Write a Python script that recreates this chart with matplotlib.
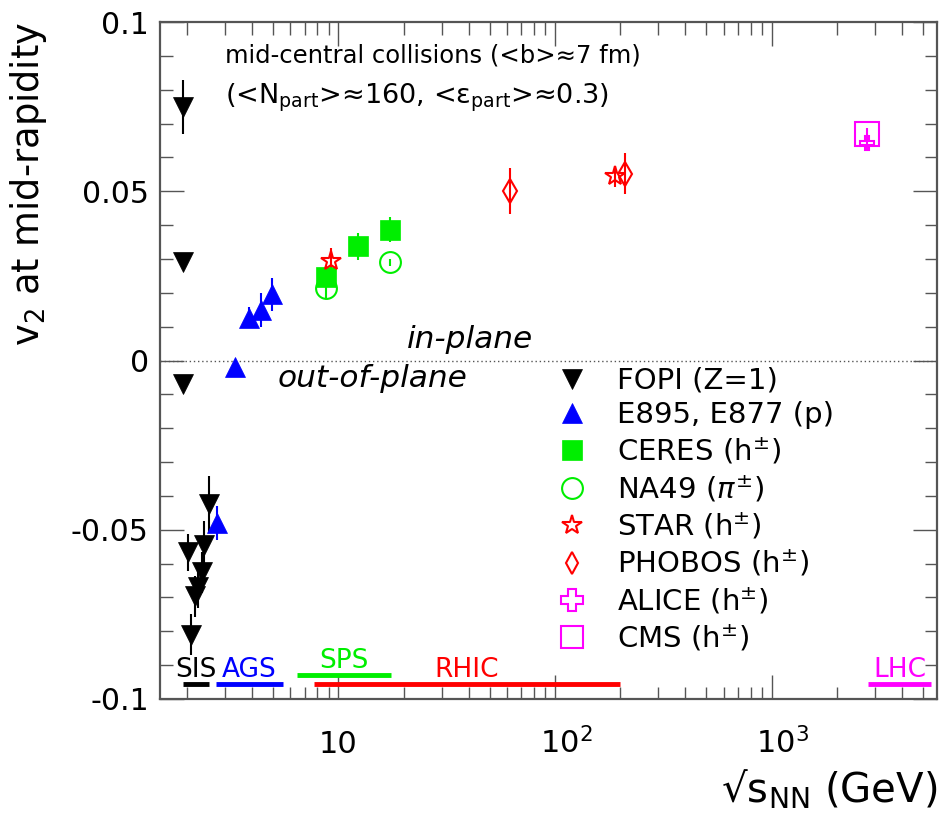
import matplotlib
matplotlib.use("Agg")
import matplotlib.pyplot as plt
import matplotlib.transforms as mtransforms
from matplotlib.lines import Line2D
from matplotlib.ticker import LogLocator, MultipleLocator, NullFormatter
import numpy as np

plt.rcParams['font.family'] = ['DejaVu Sans']
plt.rcParams['mathtext.fontset'] = 'dejavusans'

# ---- data ----
fopi_x = [1.92, 1.92, 1.92, 2.53, 2.02, 2.40, 2.35, 2.25, 2.18, 2.09]
fopi_y = [0.075, 0.029, -0.0068, -0.0425, -0.0567, -0.0544, -0.0626, -0.067, -0.0697, -0.081]
fopi_e = [0.008, 0.001, 0.001, 0.0085, 0.0055, 0.007, 0.006, 0.006, 0.006, 0.006]

e895_x = [2.75, 3.34, 3.87, 4.40, 4.94]
e895_y = [-0.048, -0.002, 0.0127, 0.015, 0.0195]
e895_e = [0.005, 0.002, 0.003, 0.005, 0.005]

ceres_x = [8.8, 12.3, 17.3]
ceres_y = [0.0248, 0.0337, 0.0387]
ceres_e = [0.003, 0.004, 0.0037]

na49_x = [8.8, 17.3]
na49_y = [0.0215, 0.029]
na49_e = [0.003, 0.001]

star_x = [9.2, 190]
star_y = [0.0293, 0.0544]
star_e = [0.004, 0.003]

phobos_x = [62, 211]
phobos_y = [0.050, 0.0552]
phobos_e = [0.0068, 0.006]

alice_x = [2760]
alice_y = [0.0644]
alice_e = [0.002]

cms_x = [2760]
cms_y = [0.0668]
cms_e = [0.002]

# accelerator energy ranges
acc_names = ['SIS', 'AGS', 'SPS', 'RHIC', 'LHC']
acc_lo = [1.92, 2.72, 6.46, 7.7, 2780]
acc_hi = [2.53, 5.56, 17.4, 200, 5450]
acc_y = [-0.0957, -0.0957, -0.0928, -0.0957, -0.0957]
acc_col = ['black', 'blue', '#00ee00', 'red', 'magenta']

fig = plt.figure(figsize=(9.41, 8.24), dpi=100)
ax = fig.add_axes([0.170, 0.1517, 0.8257, 0.8216])

ax.set_xscale('log')
ax.set_xlim(1.5, 5800)
ax.set_ylim(-0.1, 0.1)

green = '#00ee00'
# x, y, err, label, marker, colour, face, size in plot, size in legend
series = [
    (fopi_x, fopi_y, fopi_e, 'FOPI (Z=1)', 'v', 'black', 'black', 14, 14),
    (e895_x, e895_y, e895_e, 'E895, E877 (p)', '^', 'blue', 'blue', 14, 14),
    (ceres_x, ceres_y, ceres_e, r'CERES (h$^{\pm}$)', 's', green, green, 14, 14),
    (na49_x, na49_y, na49_e, r'NA49 ($\pi^{\pm}$)', 'o', green, 'none', 15, 15),
    (star_x, star_y, star_e, r'STAR (h$^{\pm}$)', '*', 'red', 'none', 15, 15),
    (phobos_x, phobos_y, phobos_e, r'PHOBOS (h$^{\pm}$)', 'd', 'red', 'none', 12, 11),
    (alice_x, alice_y, alice_e, r'ALICE (h$^{\pm}$)', 'P', 'magenta', 'none', 10, 16),
    (cms_x, cms_y, cms_e, r'CMS (h$^{\pm}$)', 's', 'magenta', 'none', 17, 16),
]

handles = []
for x, y, e, lab, m, c, fc, ms, lms in series:
    mew = 1.5 if fc == 'none' else 0.5
    ax.errorbar(x, y, yerr=e, fmt='none', ecolor=c, elinewidth=1.5, capsize=0, zorder=2)
    ax.plot(x, y, ls='none', marker=m, color=c, mfc=fc, mec=c, ms=ms, mew=mew, zorder=3)
    handles.append(Line2D([], [], ls='none', marker=m, color=c, mfc=fc, mec=c,
                          ms=lms, mew=mew, label=lab))

ax.axhline(0, color='#555555', lw=1, ls=(0, (1, 2)), zorder=1)

for name, lo, hi, yv, c in zip(acc_names, acc_lo, acc_hi, acc_y, acc_col):
    ax.hlines(yv, lo, hi, colors=c, lw=3.5, zorder=2)
    ax.annotate(name, (np.sqrt(lo * hi), yv), xytext=(0, 5), textcoords='offset points',
                ha='center', va='baseline', color=c, fontsize=19)

ax.text(0.084, 0.968, 'mid-central collisions (<b>≈7 fm)', transform=ax.transAxes,
        fontsize=17.5, va='top', ha='left')
ax.text(0.084, 0.912, r'(<N$_{\mathrm{part}}$>≈160, <ε$_{\mathrm{part}}$>≈0.3)', transform=ax.transAxes,
        fontsize=19.5, va='top', ha='left')

ax.text(40.4, 0.0036, 'in-plane', style='italic', fontsize=22.5, ha='center', va='baseline')
ax.text(14.4, -0.0077, 'out-of-plane', style='italic', fontsize=22.5, ha='center', va='baseline')

ax.legend(handles=handles, loc='upper left', bbox_to_anchor=(0.496, 0.508), frameon=False,
          fontsize=21, handlelength=1.03, handletextpad=1.01, labelspacing=0.225,
          borderaxespad=0, numpoints=1)

# axes styling (ROOT look)
ax.set_xticks([10, 100, 1000])
ax.set_xticklabels(['10', r'$10^{2}$', r'$10^{3}$'])
ax.xaxis.set_minor_locator(LogLocator(base=10, subs=np.arange(2, 10)))
ax.xaxis.set_minor_formatter(NullFormatter())
ax.set_yticks([-0.1, -0.05, 0, 0.05, 0.1])
ax.set_yticklabels(['-0.1', '-0.05', '0', '0.05', '0.1'])
ax.yaxis.set_minor_locator(MultipleLocator(0.01))

ax.tick_params(which='both', direction='in', top=True, right=True, colors='#555555',
               labelcolor='black')
ax.tick_params(which='major', length=17, width=1)
ax.tick_params(which='minor', length=9, width=1)
ax.tick_params(axis='x', pad=39, labelsize=22)
ax.tick_params(axis='y', pad=8, labelsize=21.5)
# "10" of each label sits on its tick, the exponent hangs to the right
shift = mtransforms.ScaledTranslation(8 / 72, 0, fig.dpi_scale_trans)
for i, lbl in enumerate(ax.get_xticklabels()):
    lbl.set_va('baseline')
    if i > 0:
        lbl.set_transform(lbl.get_transform() + shift)
for s in ax.spines.values():
    s.set_color('#555555')
    s.set_linewidth(1.6)

ax.set_ylabel(r'v$_2$ at mid-rapidity', fontsize=26.5, loc='top', labelpad=16)
ax.set_xlabel(r'√s$_{\mathrm{NN}}$ (GeV)', fontsize=29, loc='right', labelpad=6)

fig.savefig('out.png', dpi=100)
